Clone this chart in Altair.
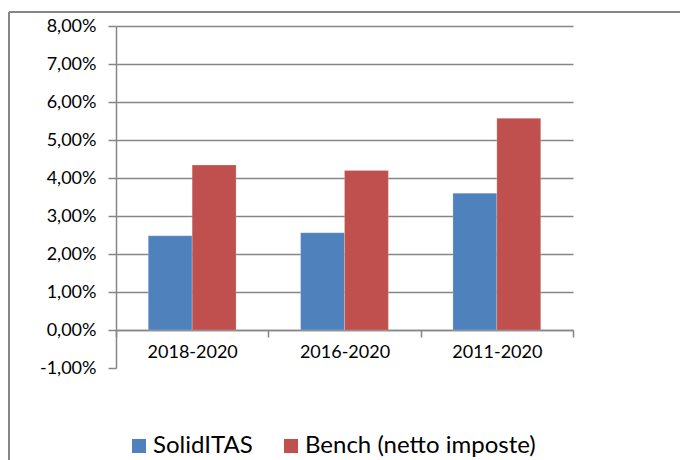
import altair as alt
import pandas as pd

periods = ["2018-2020", "2016-2020", "2011-2020"]
series = ["SolidITAS", "Bench (netto imposte)"]
solid = [2.48, 2.56, 3.60]
bench = [4.34, 4.20, 5.57]
y_ticks = [-1, 0, 1, 2, 3, 4, 5, 6, 7, 8]
colors = ["#4F81BD", "#C0504D"]

rows = []
for i, p in enumerate(periods):
    rows.append({"period": p, "series": series[0], "value": solid[i]})
    rows.append({"period": p, "series": series[1], "value": bench[i]})
df = pd.DataFrame(rows)

FONT = "Lato"
GRAY = "#868686"

bars = alt.Chart(df).mark_bar(stroke="#ffffff", strokeWidth=0.5, strokeOpacity=0.4).encode(
    x=alt.X(
        "period:N",
        sort=periods,
        scale=alt.Scale(paddingInner=0, paddingOuter=0),
        axis=alt.Axis(
            title=None,
            labelAngle=0,
            tickBand="extent",
            offset=-38,
            domainColor=GRAY,
            domainWidth=1.5,
            tickColor=GRAY,
            tickWidth=1.5,
            tickSize=7,
            labelFont=FONT,
            labelFontSize=18,
            labelColor="#000000",
            labelPadding=6,
            grid=False,
        ),
    ),
    xOffset=alt.XOffset(
        "series:N",
        sort=series,
        scale=alt.Scale(paddingInner=0, paddingOuter=0.735),
    ),
    y=alt.Y(
        "value:Q",
        scale=alt.Scale(domain=[-1, 8], nice=False, zero=False),
        axis=alt.Axis(
            title=None,
            values=y_ticks,
            labelExpr="replace(replace(format(datum.value, '.2f'), '.', ','), '\u2212', '-') + '%'",
            labelFont=FONT,
            labelFontSize=18,
            labelColor="#000000",
            labelPadding=12,
            domainColor=GRAY,
            domainWidth=1.5,
            tickColor=GRAY,
            tickWidth=1.5,
            tickSize=8,
            grid=True,
            gridColor=GRAY,
            gridWidth=1.5,
            gridOpacity=alt.condition("datum.value < -0.5", alt.value(0), alt.value(1)),
        ),
    ),
    y2=alt.datum(0),
    color=alt.Color(
        "series:N",
        sort=series,
        scale=alt.Scale(domain=series, range=colors),
        legend=alt.Legend(
            title=None,
            orient="none",
            legendX=11,
            legendY=408,
            direction="horizontal",
            symbolType="square",
            symbolSize=196,
            symbolStrokeWidth=0,
            labelFont=FONT,
            labelFontSize=24,
            labelColor="#000000",
            labelOffset=2,
            labelLimit=0,
            columnPadding=26,
            padding=0,
        ),
    ),
)

frame_data = alt.Data(values=[{"f": 1}])
frame_top = alt.Chart(frame_data).mark_rule(color=GRAY, strokeWidth=2, clip=False).encode(
    x=alt.value(-107),
    x2=alt.value(1000),
    y=alt.value(-14),
)
frame_left = alt.Chart(frame_data).mark_rule(color=GRAY, strokeWidth=2, clip=False).encode(
    x=alt.value(-107),
    y=alt.value(-14),
    y2=alt.value(600),
)

chart = alt.layer(frame_top, frame_left, bars).properties(
    width=457,
    height=342,
    autosize=alt.AutoSizeParams(type="none"),
    padding={"left": 108, "top": 18, "right": 107, "bottom": 94},
    background="#ffffff",
).configure_view(stroke=None)

chart.save("out.html", embed_options={"renderer": "svg", "actions": False})
